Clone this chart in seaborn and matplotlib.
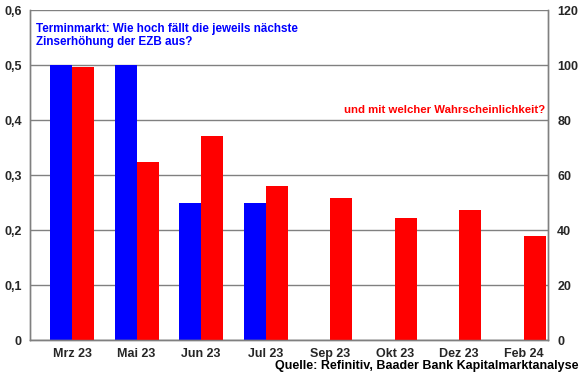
import pandas as pd
import seaborn as sns
import matplotlib.pyplot as plt
from matplotlib.ticker import FuncFormatter

monate = ["Mrz 23", "Mai 23", "Jun 23", "Jul 23", "Sep 23", "Okt 23", "Dez 23", "Feb 24"]
zinsschritt = [0.5, 0.5, 0.25, 0.25, 0, 0, 0, 0]
wahrscheinlichkeit = [99.4, 64.8, 74.2, 56.0, 51.6, 44.3, 47.2, 37.8]

sns.set_theme(style="white")
plt.rcParams["font.family"] = ["Liberation Sans", "DejaVu Sans"]
plt.rcParams["font.weight"] = "bold"

n = len(monate)
df1 = pd.DataFrame({"Monat": monate * 2, "Serie": ["Zins"] * n + ["Wahrsch"] * n,
                    "Wert": zinsschritt + [0] * n})
df2 = pd.DataFrame({"Monat": monate * 2, "Serie": ["Zins"] * n + ["Wahrsch"] * n,
                    "Wert": [0] * n + wahrscheinlichkeit})
farben = {"Zins": "#0000FF", "Wahrsch": "#FF0000"}

fig = plt.figure(figsize=(5.8, 3.75), dpi=100)
ax = fig.add_axes([0.052, 0.093, 0.892, 0.88])
ax2 = ax.twinx()

sns.barplot(data=df1, x="Monat", y="Wert", hue="Serie", hue_order=["Zins", "Wahrsch"],
            palette=farben, width=0.68, gap=0, saturation=1, legend=False,
            linewidth=0, edgecolor="none", ax=ax)
sns.barplot(data=df2, x="Monat", y="Wert", hue="Serie", hue_order=["Zins", "Wahrsch"],
            palette=farben, width=0.68, gap=0, saturation=1, legend=False,
            linewidth=0, edgecolor="none", ax=ax2)

ax.set_ylim(0, 0.6)
ax2.set_ylim(0, 120)
ax.set_xlim(-0.65, 7.37)
ax.set_yticks([0, 0.1, 0.2, 0.3, 0.4, 0.5, 0.6])
ax2.set_yticks(range(0, 121, 20))
ax.yaxis.set_major_formatter(FuncFormatter(lambda v, p: f"{v:.1f}".replace(".", ",") if v else "0"))
ax.grid(axis="y", color="#808080", linewidth=1)
ax.set_axisbelow(True)
ax.set_xlabel("")
ax.set_ylabel("")
ax2.set_ylabel("")
for a in (ax, ax2):
    for s in a.spines.values():
        s.set_color("#808080")
        s.set_linewidth(1)
    a.tick_params(axis="both", labelsize=9, length=0, pad=6)
ax2.tick_params(axis="y", pad=7)
ax2.spines["top"].set_visible(False)
ax.spines["top"].set_visible(False)

fig.text(0.062, 0.938, "Terminmarkt: Wie hoch fällt die jeweils nächste\nZinserhöhung der EZB aus?",
         color="#0000FF", fontsize=8.4, fontweight="bold", va="top", ha="left", linespacing=1.05)
fig.text(0.94, 0.707, "und mit welcher Wahrscheinlichkeit?", color="#FF0000",
         fontsize=8.2, fontweight="bold", ha="right", va="center")
fig.text(0.997, 0.008, "Quelle: Refinitiv, Baader Bank Kapitalmarktanalyse", color="black",
         fontsize=9, fontweight="bold", ha="right", va="bottom")

fig.savefig("out.png", dpi=100)
